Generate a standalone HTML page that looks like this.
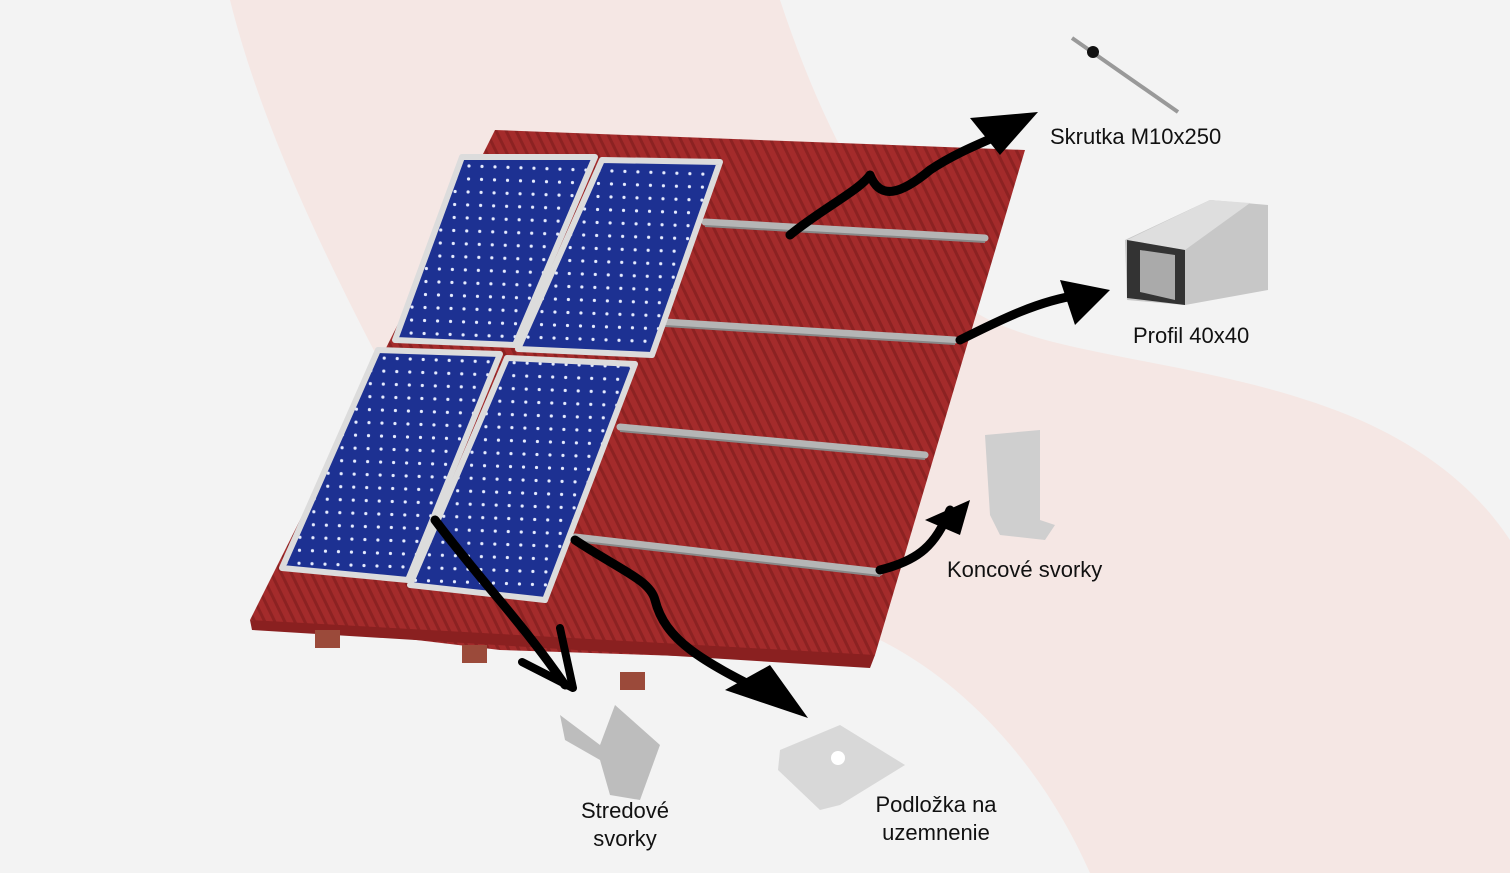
<!DOCTYPE html>
<html><head><meta charset="utf-8"><style>
html,body{margin:0;padding:0;background:#f3f3f3;}
svg{display:block}
text{font-family:"Liberation Sans",sans-serif;font-size:22px;fill:#111;}
</style></head><body>
<svg width="1510" height="873" viewBox="0 0 1510 873" xmlns="http://www.w3.org/2000/svg">
<defs>
<pattern id="cells" width="13" height="13" patternUnits="userSpaceOnUse" patternTransform="rotate(2)">
<rect width="13" height="13" fill="#1d3192"/>
<circle cx="6.5" cy="6.5" r="1.6" fill="#e6ecff"/>
</pattern>
<pattern id="tiles" width="9" height="40" patternUnits="userSpaceOnUse" patternTransform="rotate(-26)">
<rect width="9" height="40" fill="#a42b2b"/>
<rect width="3" height="40" fill="#8c2222"/>
</pattern>
</defs>
<rect width="1510" height="873" fill="#f3f3f3"/>
<path d="M230 0 L780 0 C820 120 880 250 980 315 C1060 360 1220 360 1360 420 C1450 460 1490 510 1510 540 L1510 873 L1090 873 C1040 760 960 680 880 640 L400 400 C320 250 260 120 230 0Z" fill="#f5e7e4"/>
<path d="M250 620 L495 130 L1025 150 L875 655 L860 662 L500 650 Z" fill="url(#tiles)"/>
<path d="M250 620 L875 655 L870 668 L252 630Z" fill="#8a2020"/>
<rect x="315" y="630" width="25" height="18" fill="#9b4a3a"/>
<rect x="462" y="645" width="25" height="18" fill="#9b4a3a"/>
<rect x="620" y="672" width="25" height="18" fill="#9b4a3a"/>
<g stroke="#b5b5b5" stroke-width="7" stroke-linecap="round">
<line x1="705" y1="222" x2="985" y2="238"/>
<line x1="665" y1="322" x2="955" y2="340"/>
<line x1="620" y1="427" x2="925" y2="455"/>
<line x1="575" y1="537" x2="880" y2="572"/>
</g>
<g stroke="#888" stroke-width="2">
<line x1="705" y1="226" x2="985" y2="242"/>
<line x1="665" y1="326" x2="955" y2="344"/>
<line x1="620" y1="431" x2="925" y2="459"/>
<line x1="575" y1="541" x2="880" y2="576"/>
</g>
<g stroke="#dcdcdc" stroke-width="6" stroke-linejoin="round">
<path d="M462 157 L595 157 L515 345 L395 340Z" fill="url(#cells)"/>
<path d="M602 160 L720 162 L652 355 L518 349Z" fill="url(#cells)"/>
<path d="M378 350 L500 354 L408 580 L282 568Z" fill="url(#cells)"/>
<path d="M507 358 L635 364 L545 600 L410 585Z" fill="url(#cells)"/>
</g>
<g>
<line x1="1072" y1="38" x2="1178" y2="112" stroke="#999" stroke-width="4"/>
<circle cx="1093" cy="52" r="6" fill="#111"/>
<path d="M1125 240 L1210 200 L1268 205 L1268 290 L1185 305 L1127 300Z" fill="#c7c7c7"/>
<path d="M1127 240 L1210 200 L1250 203 L1185 250Z" fill="#dedede"/>
<path d="M1127 240 L1185 250 L1185 305 L1127 298Z" fill="#333"/>
<path d="M1140 250 L1175 255 L1175 300 L1140 292Z" fill="#aaa"/>
<path d="M985 435 L1040 430 L1040 520 L1055 525 L1045 540 L1000 535 L990 515Z" fill="#cfcfcf"/>
<path d="M560 715 L600 745 L615 705 L660 745 L640 800 L610 795 L600 760 L565 740Z" fill="#bdbdbd"/>
<path d="M780 750 L840 725 L905 765 L840 805 L820 810 L778 770Z" fill="#d8d8d8"/>
<circle cx="838" cy="758" r="7" fill="#fff"/>
</g>
<g fill="none" stroke="#000" stroke-width="9" stroke-linecap="round" stroke-linejoin="round">
<path d="M790 235 C820 210 860 190 870 175 C880 200 900 195 930 170 C960 150 990 140 1010 130"/>
<path d="M960 340 C1000 320 1040 300 1080 295"/>
<path d="M880 570 C920 560 935 545 950 510"/>
<path d="M435 520 C480 580 520 620 565 685"/>
<path d="M575 540 C620 570 650 580 655 600 C665 640 700 660 770 695"/>
<path d="M522 662 L573 688 L560 628" stroke-width="8"/>
</g>
<g fill="#000">
<path d="M970 118 L1038 112 L1000 155 Z"/>
<path d="M1060 280 L1110 290 L1075 325 Z"/>
<path d="M925 520 L970 500 L960 535 Z"/>
<path d="M725 690 L770 665 L808 718 Z"/>
</g>
<text x="1050" y="144">Skrutka M10x250</text>
<text x="1133" y="343">Profil 40x40</text>
<text x="947" y="577">Koncové svorky</text>
<text x="625" y="818" text-anchor="middle">Stredové</text>
<text x="625" y="846" text-anchor="middle">svorky</text>
<text x="936" y="812" text-anchor="middle">Podložka na</text>
<text x="936" y="840" text-anchor="middle">uzemnenie</text>
</svg>
</body></html>
